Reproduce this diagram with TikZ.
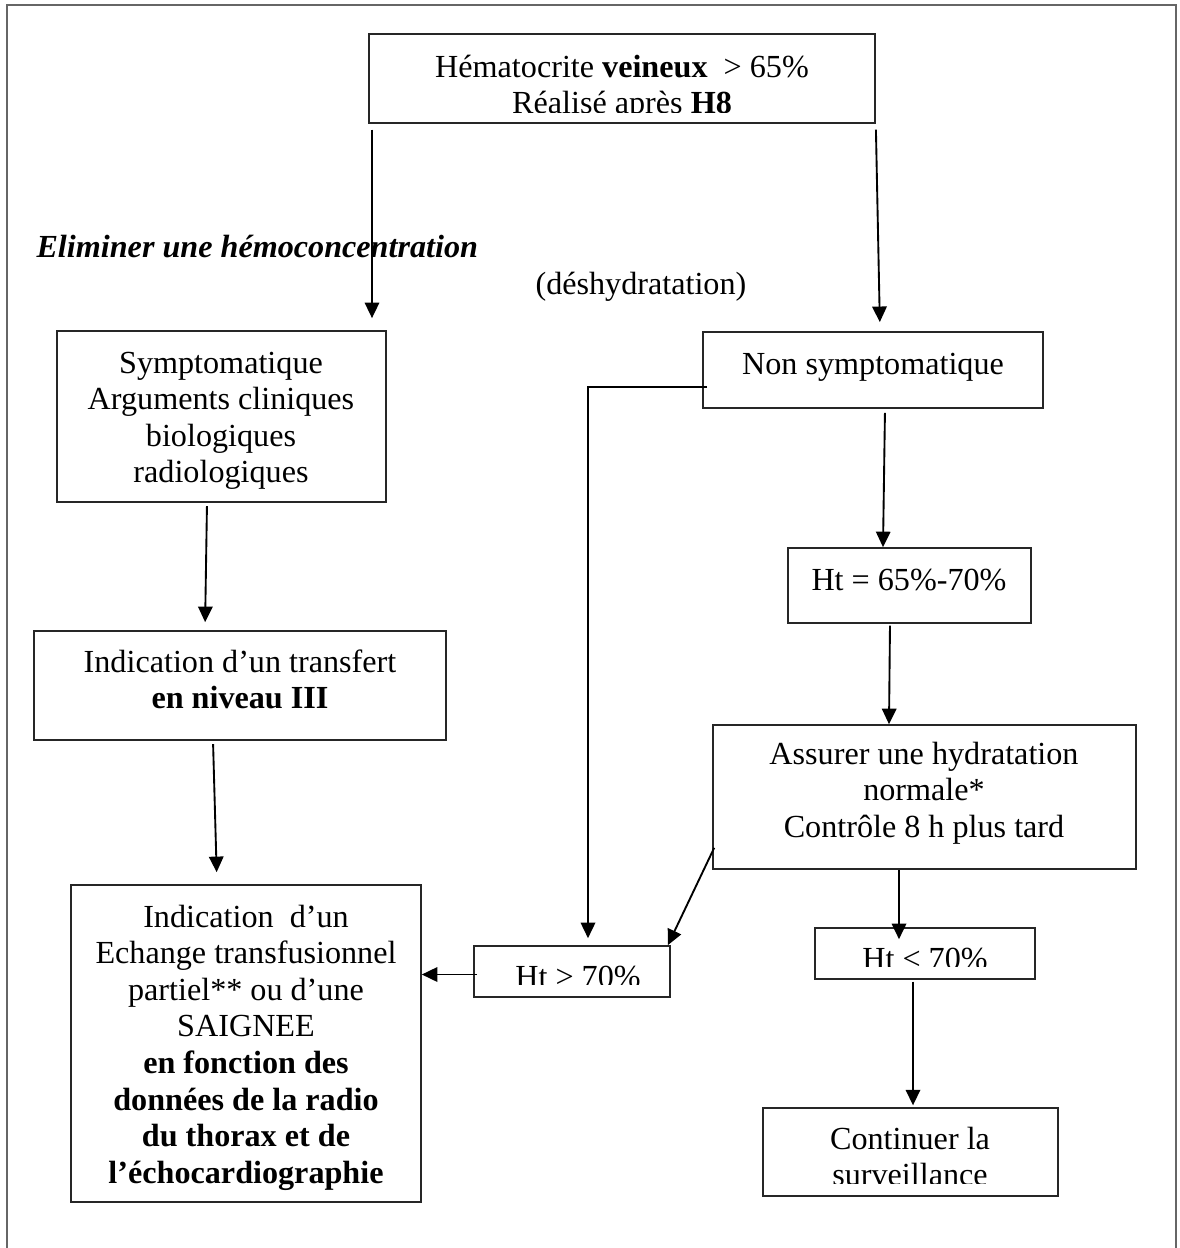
\documentclass[tikz,border=0pt]{standalone}
\usepackage{fontspec}
\setmainfont{Liberation Serif}
\usetikzlibrary{arrows.meta,calc,fit}
% centred lines whose baseline is the first line's baseline
\newcommand\mltext[1]{\begin{tabular}[t]{@{}c@{}}#1\end{tabular}}

\begin{document}
\begin{tikzpicture}[x=0.3731pt,y=-0.3731pt,
  box/.style={draw=black!85, line width=0.6pt, inner sep=0pt},
  txt/.style={anchor=base, inner sep=0pt, font=\fontsize{12}{13.66}\selectfont},
  arr/.style={draw=black, line width=0.7pt, -{Triangle[length=5.8pt,width=5.4pt]}},
  frame/.style={draw=black!60, line width=0.5pt}]
\useasboundingbox (0,0) rectangle (1180,1248);

% page frame, open at the bottom
\draw[frame] (7,1248) -- (7,5) -- (1176,5) -- (1176,1248);

% boxes
\node[box, fit={(369,34) (875,123)}]   (top)  {};
\node[box, fit={(57,331) (386,502)}]   (sym)  {};
\node[box, fit={(34,631) (446,740)}]   (ind)  {};
\node[box, fit={(71,885) (421,1202)}]  (big)  {};
\node[box, fit={(703,332) (1043,408)}] (ns)   {};
\node[box, fit={(788,548) (1031,623)}] (h65)  {};
\node[box, fit={(713,725) (1136,869)}] (as)   {};
\node[box, fit={(474,946) (670,997)}]  (hgt)  {};
\node[box, fit={(815,928) (1035,979)}] (hlt)  {};
\node[box, fit={(763,1108) (1058,1196)}] (cont) {};

% box texts (the lowest line of some boxes runs past the inner margin and is cut)
\begin{scope}
  \clip (top.north west) rectangle ($(top.south east)+(0,-11)$);
  \node[txt] (top-t) at (622,77) {\mltext{H\'ematocrite \textbf{veineux}\ \ > 65\%\\ R\'ealis\'e apr\`es \textbf{H8}}};
\end{scope}
\node[txt] (sym-t) at (221,373) {\mltext{Symptomatique\\ Arguments cliniques\\ biologiques\\ radiologiques}};
\node[txt] (ind-t) at (240,672) {\mltext{Indication d’un transfert\\ \textbf{en niveau III}}};
\node[txt] (big-t) at (246,927) {\mltext{Indication\ \ d’un\\ Echange transfusionnel\\ partiel** ou d’une\\ SAIGNEE\\ \textbf{en fonction des}\\ \textbf{données de la radio}\\ \textbf{du thorax et de}\\ \textbf{l’échocardiographie}}};
\node[txt] (ns-t) at (873,374) {Non symptomatique};
\node[txt] (h65-t) at (909,590) {Ht = 65\%-70\%};
\node[txt] (as-t) at (924,764) {\mltext{Assurer une hydratation\\ normale*\\ Contrôle 8 h plus tard}};
\begin{scope}
  \clip (hgt.north west) rectangle ($(hgt.south east)+(0,-13)$);
  \node[txt] (hgt-t) at (578,987) {Ht > 70\%};
\end{scope}
\begin{scope}
  \clip (hlt.north west) rectangle ($(hlt.south east)+(0,-13)$);
  \node[txt] (hlt-t) at (925,969) {Ht < 70\%};
\end{scope}
\begin{scope}
  \clip (cont.north west) rectangle ($(cont.south east)+(0,-13)$);
  \node[txt] (cont-t) at (910,1149) {\mltext{Continuer la\\ surveillance}};
\end{scope}

% free labels
\node[txt, anchor=base west] (elim) at (36,257) {\textbf{\textit{Eliminer une hémoconcentration}}};
\node[txt, anchor=base west] (desh) at (535,294) {(déshydratation)};

% connectors
\draw[arr, shorten <=2.2pt, shorten >=4.5pt] (top.south -| 372,0) -- (sym.north -| 372,0);
\draw[arr, shorten <=2.2pt, shorten >=3.4pt] (top.south east) -- (ns.north -| 880,0);
\draw[arr, shorten <=1.2pt, shorten >=3pt] (sym.south -| 207,0) -- (ind.north -| 205,0);
\draw[arr, shorten <=1.2pt, shorten >=4.5pt] (ind.south -| 213,0) -- (big.north -| 217,0);
\draw[arr, shorten <=1.5pt] (ns.south -| 885,0) -- (h65.north -| 883,0);
\draw[arr, shorten <=0.7pt] (h65.south -| 890,0) -- (as.north -| 889,0);
\draw[arr] (as.south -| 899,0) -- ($(hlt.north -| 899,0)+(0,12)$);
\draw[arr, shorten <=0.7pt, shorten >=0.7pt] (hlt.south -| 913,0) -- (cont.north -| 913,0);
\draw[arr] ($(ns.west)+(5,17)$) -| ($(hgt.north -| 588,0)+(0,-7)$);
\draw[arr] ($(as.south west)+(2,-22)$) -- ($(hgt.north east)+(-3,0)$);
\draw[arr] ($(hgt.west)+(4,3)$) -- ($(big.east |- hgt.west)+(0,3)$);
\end{tikzpicture}
\end{document}
